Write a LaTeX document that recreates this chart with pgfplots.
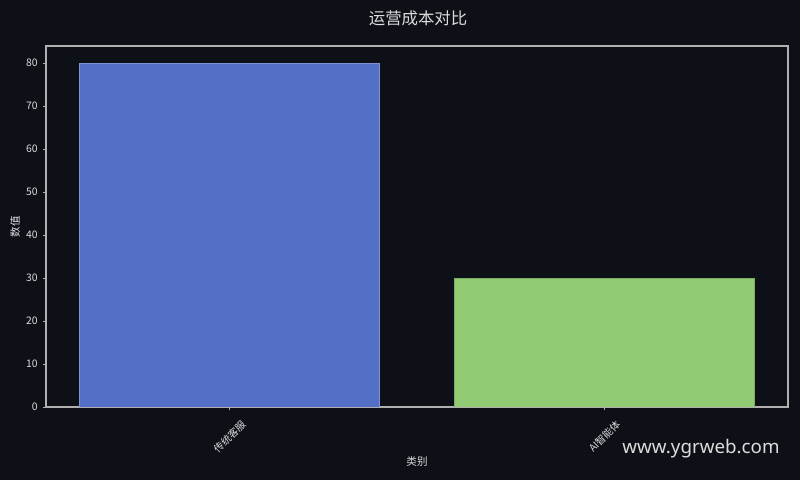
\documentclass[border=0pt]{standalone}
\usepackage{pgfplots}
\pgfplotsset{compat=1.18}
\usepackage{fontspec}
\setmainfont{DejaVu Sans}
\newfontfamily\cjk{Noto Sans CJK SC}
\newfontfamily\wm{Noto Sans}
\definecolor{bg}{HTML}{0D1017}
\definecolor{fg}{HTML}{DCDCDC}
\definecolor{framec}{HTML}{B0B0B0}
\definecolor{barblue}{HTML}{5470C6}
\definecolor{bargreen}{HTML}{91CC75}

\begin{document}
\begin{tikzpicture}
\useasboundingbox (0pt,0pt) rectangle (576pt,345.6pt);
\fill[bg] (0pt,0pt) rectangle (576pt,345.6pt);
\begin{axis}[
    at={(33.12pt,52.56pt)}, anchor=south west,
    scale only axis,
    width=534.24pt, height=259.92pt,
    xmin=-0.49, xmax=1.49,
    ymin=0, ymax=84,
    xtick={0,1},
    xticklabels={传统客服, AI智能体},
    ytick={0,10,...,80},
    axis line style={framec, line width=0.8pt},
    tick style={framec, line width=0.7pt},
    tick align=outside,
    major tick length=2.5pt,
    xtick pos=bottom, ytick pos=left,
    /pgf/number format/assume math mode=true,
    yticklabel style={font=\cjk\fontsize{7.5}{9}\selectfont, text=fg},
    xticklabel style={font=\cjk\fontsize{7.2}{8}\selectfont, text=fg,
        rotate=45, anchor=center, xshift=-13.2pt, yshift=-13.2pt},
    xlabel={类别}, ylabel={数值},
    xlabel style={font=\cjk\fontsize{7.6}{9}\selectfont, text=fg,
        at={(axis description cs:0.5,0)}, anchor=center, yshift=-38.9pt},
    ylabel style={font=\cjk\fontsize{7.6}{9}\selectfont, text=fg,
        at={(axis description cs:0,0.5)}, anchor=center, yshift=22.3pt},
    ybar, bar width=0.8, bar shift=0pt,
]
\addplot[fill=barblue, draw=barblue!75!white, line width=0.4pt] coordinates {(0,80)};
\addplot[fill=bargreen, draw=bargreen!85!black, line width=0.4pt] coordinates {(1,30)};
\end{axis}
\node[font=\cjk\fontsize{11.8}{14}\selectfont, text=fg] at (301pt,332.6pt) {运营成本对比};
\node[font=\wm\fontsize{13.5}{16}\selectfont, text=fg] at (504.7pt,22.3pt) {www.ygrweb.com};
\end{tikzpicture}
\end{document}
